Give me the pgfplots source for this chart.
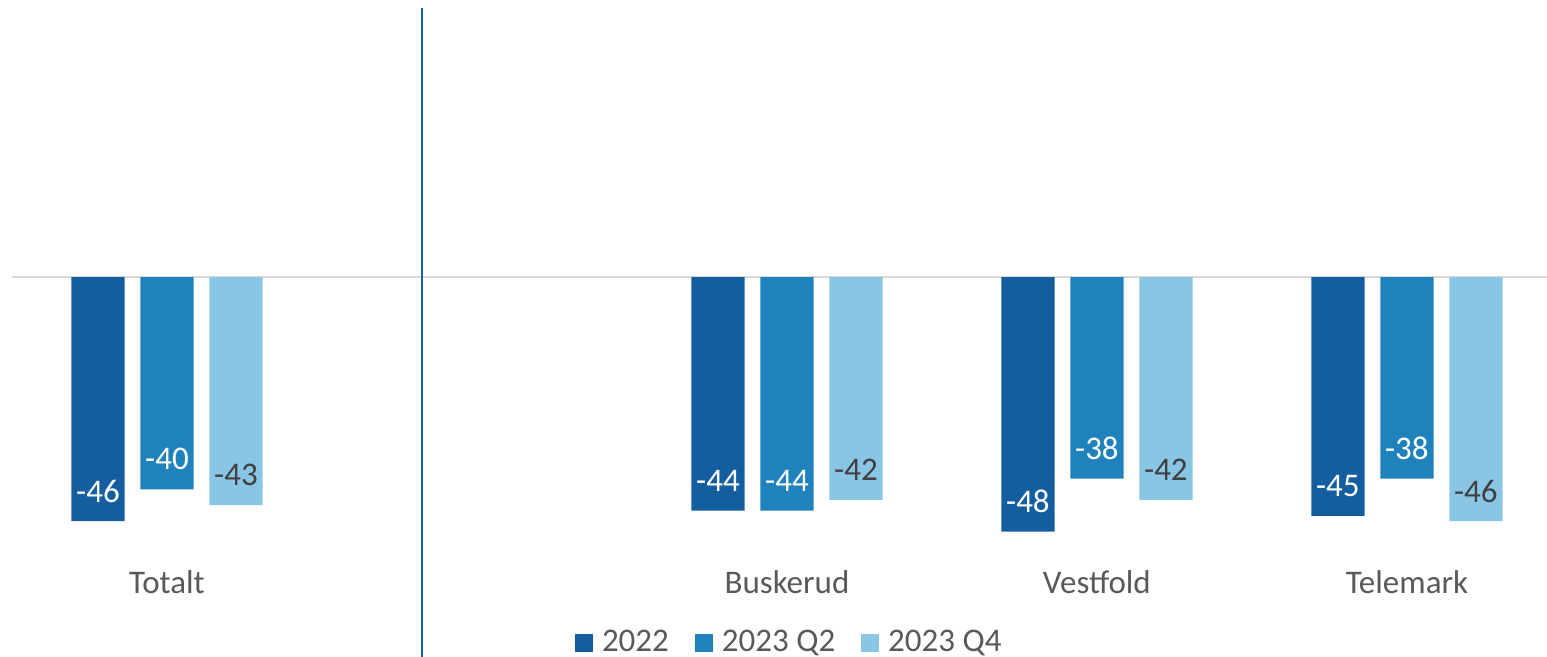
\documentclass[border=0pt]{standalone}
\usepackage{pgfplots}
\pgfplotsset{compat=1.18}
\usepackage{fontspec}
\setmainfont{Carlito}
\definecolor{cA}{HTML}{145EA0}
\definecolor{cB}{HTML}{1F82BC}
\definecolor{cC}{HTML}{89C6E5}
\definecolor{txt}{HTML}{595959}
\definecolor{lbl}{HTML}{404040}
\begin{document}
\begin{tikzpicture}
\fontsize{16.5}{19}\selectfont
\begin{axis}[
    at={(6pt,56pt)}, anchor=south west,
    scale only axis, width=767.5pt, height=268.5pt,
    xmin=-0.5, xmax=4.452, ymin=-50.5, ymax=50.75,
    clip=false,
    ybar, bar width=0.172,
    axis line style={draw=none},
    major tick length=0pt,
    ytick=\empty,
    xtick={0,2,3,4},
    xticklabels={Totalt,Buskerud,Vestfold,Telemark},
    xticklabel style={anchor=center, yshift=-18.5pt, text=txt, font=\fontsize{16.5}{19}\selectfont},
    /pgf/number format/assume math mode=true,
    nodes near coords,
    every node near coord/.append style={anchor=center, yshift=15pt, font=\fontsize{16.5}{19}\selectfont},
    legend columns=-1,
    legend style={at={(0.507,-0.1825)}, anchor=center, draw=none, fill=none,
        font=\fontsize{16.5}{19}\selectfont, text=txt,
        /tikz/every odd column/.append style={column sep=2.5pt},
        /tikz/every even column/.append style={column sep=11pt}},
    legend image code/.code={\fill[#1,draw=none] (0pt,-4.5pt) rectangle (9pt,4.5pt);},
]
\draw[color=black!15, line width=1pt] (axis cs:-0.5,0) -- (axis cs:4.452,0);
\addplot[fill=cA, draw=none, bar shift=-0.2226, nodes near coords style={text=white}]
    coordinates {(0,-46) (2,-44) (3,-48) (4,-45)};
\addplot[fill=cB, draw=none, bar shift=0, nodes near coords style={text=white}]
    coordinates {(0,-40) (2,-44) (3,-38) (4,-38)};
\addplot[fill=cC, draw=none, bar shift=0.2226, nodes near coords style={text=lbl}]
    coordinates {(0,-43) (2,-42) (3,-42) (4,-46)};
\legend{2022,2023 Q2,2023 Q4}
\draw[color=cA, line width=1pt] (axis cs:0.8226,50.75) -- (axis cs:0.8226,-72);
\end{axis}
\pgfresetboundingbox
\path[use as bounding box] (0,0) rectangle (773.5pt,328.5pt);
\end{tikzpicture}
\end{document}
